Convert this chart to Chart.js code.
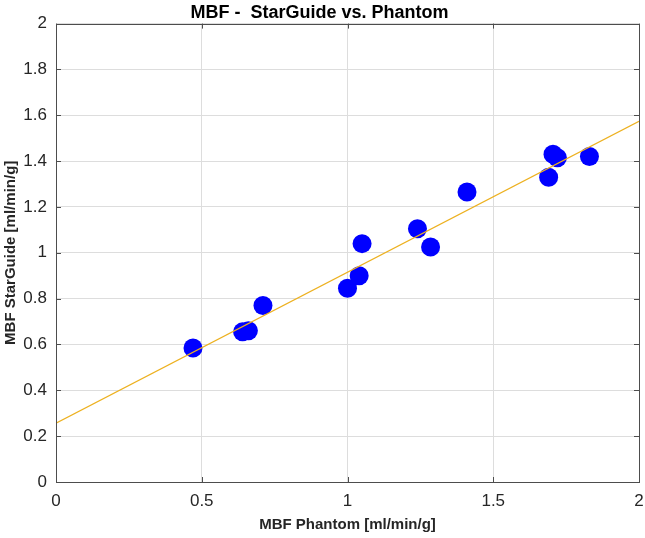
<!DOCTYPE html>
<html>
<head>
<meta charset="utf-8">
<script src="https://cdn.jsdelivr.net/npm/chart.js@4"></script>
<style>
  html, body { margin: 0; padding: 0; background: #ffffff; }
  #wrap { width: 645px; height: 538px; }
</style>
</head>
<body>
<div id="wrap"><canvas id="chart" width="645" height="538"></canvas></div>
<script>
// MBF readings: phantom (x) vs. StarGuide (y)
const phantom   = [0.47, 0.64, 0.66, 0.71, 1.00, 1.04, 1.05, 1.24, 1.285, 1.41, 1.69, 1.705, 1.72, 1.83];
const starGuide = [0.585, 0.655, 0.66, 0.77, 0.845, 0.90, 1.04, 1.105, 1.025, 1.265, 1.33, 1.43, 1.415, 1.42];

// end points of the fitted line
const fitX = [0, 2];
const fitY = [0.257, 1.574];

const xTicks = [0, 0.5, 1, 1.5, 2];
const yTicks = [0, 0.2, 0.4, 0.6, 0.8, 1, 1.2, 1.4, 1.6, 1.8, 2];

const FONT = "'Liberation Sans', Arial, sans-serif";
const AXIS_COLOR = '#4d4d4d';

// draws the matlab style box with ticks pointing inward
const boxPlugin = {
  id: 'box',
  afterDraw(chart) {
    const { ctx, chartArea: a, scales } = chart;
    const len = 5;
    ctx.save();
    ctx.strokeStyle = AXIS_COLOR;
    ctx.lineWidth = 1;
    ctx.beginPath();
    for (const v of xTicks) {
      const px = Math.round(scales.x.getPixelForValue(v)) + 0.5;
      ctx.moveTo(px, a.bottom); ctx.lineTo(px, a.bottom - len);
      ctx.moveTo(px, a.top); ctx.lineTo(px, a.top + len);
    }
    for (const v of yTicks) {
      const py = Math.round(scales.y.getPixelForValue(v)) + 0.5;
      ctx.moveTo(a.left, py); ctx.lineTo(a.left + len, py);
      ctx.moveTo(a.right, py); ctx.lineTo(a.right - len, py);
    }
    ctx.stroke();
    ctx.strokeRect(Math.round(a.left) + 0.5, Math.round(a.top) + 0.5,
      Math.round(a.right - a.left), Math.round(a.bottom - a.top));
    ctx.restore();
  }
};

const points = phantom.map((x, i) => ({ x: x, y: starGuide[i] }));
const fitLine = fitX.map((x, i) => ({ x: x, y: fitY[i] }));

// plain number labels like matlab (2 not 2.0)
const plain = (v) => String(Math.round(v * 10) / 10);

new Chart(document.getElementById('chart'), {
  type: 'scatter',
  data: {
    datasets: [
      {
        label: 'fit',
        type: 'line',
        data: fitLine,
        borderColor: '#EDB120',
        borderWidth: 1.2,
        pointRadius: 0,
        fill: false,
        order: 0
      },
      {
        label: 'MBF',
        data: points,
        backgroundColor: '#0000ff',
        borderColor: '#0000ff',
        pointRadius: 9.5,
        borderWidth: 0,
        order: 1
      }
    ]
  },
  options: {
    responsive: false,
    animation: false,
    devicePixelRatio: 1,
    layout: { autoPadding: false, padding: { top: 0, right: 6, bottom: 0, left: 0 } },
    plugins: {
      legend: { display: false },
      tooltip: { enabled: false },
      title: {
        display: true,
        text: 'MBF -  StarGuide vs. Phantom',
        color: '#000000',
        font: { family: FONT, size: 18, weight: 'bold' },
        padding: { top: 2, bottom: 0 }
      }
    },
    scales: {
      x: {
        type: 'linear',
        min: 0,
        max: 2,
        afterBuildTicks: (s) => { s.ticks = xTicks.map(v => ({ value: v })); },
        afterFit: (s) => { s.height = 56; s.paddingLeft = 0; s.paddingRight = 0; },
        grid: { color: '#dddddd', drawTicks: false },
        border: { display: false },
        ticks: {
          color: '#262626',
          padding: 9,
          font: { family: FONT, size: 17 },
          maxRotation: 0,
          callback: plain
        },
        title: {
          display: true,
          text: 'MBF Phantom [ml/min/g]',
          color: '#262626',
          font: { family: FONT, size: 15, weight: 'bold' },
          padding: { top: 0, bottom: 4 }
        }
      },
      y: {
        type: 'linear',
        min: 0,
        max: 2,
        afterBuildTicks: (s) => { s.ticks = yTicks.map(v => ({ value: v })); },
        afterFit: (s) => { s.width = 56; },
        grid: { color: '#dddddd', drawTicks: false },
        border: { display: false },
        ticks: {
          color: '#262626',
          padding: 9,
          font: { family: FONT, size: 17 },
          callback: plain
        },
        title: {
          display: true,
          text: 'MBF StarGuide [ml/min/g]',
          color: '#262626',
          font: { family: FONT, size: 15, weight: 'bold' },
          padding: { top: 2, bottom: 0 }
        }
      }
    }
  },
  plugins: [boxPlugin]
});
</script>
</body>
</html>
